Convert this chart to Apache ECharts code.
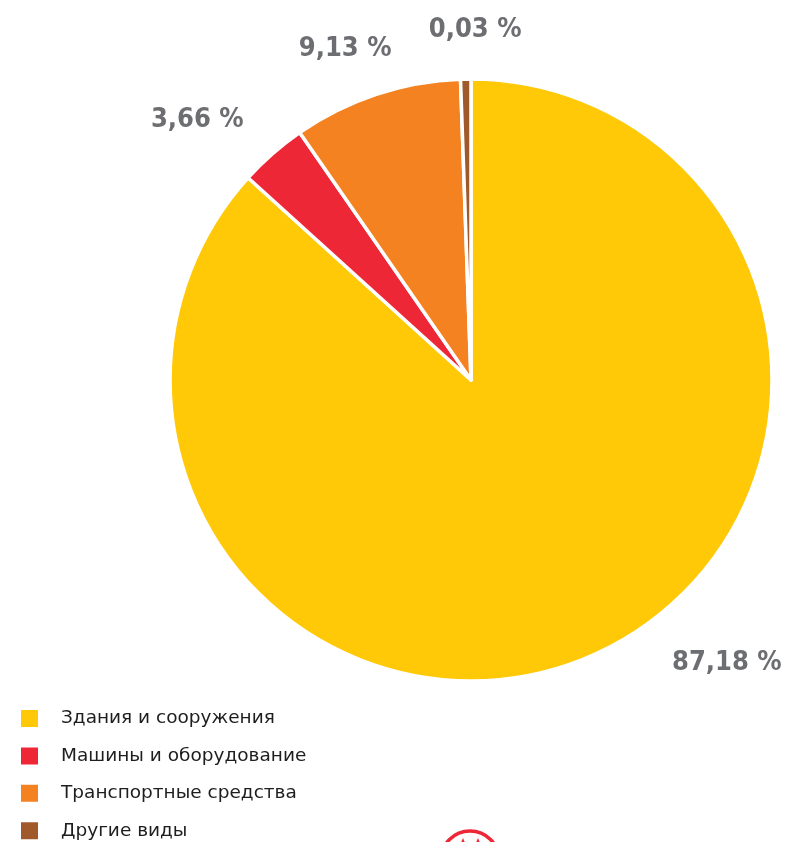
<!DOCTYPE html>
<html>
<head>
<meta charset="utf-8">
<script src="https://cdn.jsdelivr.net/npm/echarts@6/dist/echarts.min.js"></script>
<style>
  html, body { margin: 0; padding: 0; background: #ffffff; }
  #chart { width: 787px; height: 842px; }
</style>
</head>
<body>
<div id="chart"></div>
<script>
// Структура основных фондов по видам, %
const categories = ['Здания и сооружения', 'Машины и оборудование', 'Транспортные средства', 'Другие виды'];
const shares = [87.18, 3.66, 9.13, 0.03];
const labelsText = ['87,18 %', '3,66 %', '9,13 %', '0,03 %'];
const colors = ['#ffc907', '#ee2737', '#f58220', '#a0592a'];

// Label nudges from the default outside placement
const labelShift = [[38, -6], [16, -22], [55, -31], [91, -34]];

const chart = echarts.init(document.getElementById('chart'), null, { renderer: 'canvas' });

const data = categories.map((name, i) => ({
  name: name,
  value: shares[i],
  itemStyle: { color: colors[i] },
  label: { formatter: labelsText[i] }
}));

chart.setOption({
  animation: false,
  backgroundColor: '#ffffff',
  legend: {
    orient: 'vertical',
    left: 19,
    top: 708,
    width: 400,
    height: 300,
    padding: 0,
    icon: 'rect',
    itemWidth: 19,
    itemHeight: 19,
    itemGap: 16.4,
    textStyle: {
      fontFamily: 'DejaVu Sans',
      fontSize: 18.5,
      color: '#1e1e1e',
      padding: [0, 0, 0, 17]
    },
    data: categories
  },
  series: [{
    type: 'pie',
    center: [471, 380],
    radius: [0, 301],
    startAngle: 90,
    clockwise: true,
    minAngle: 2,
    minShowLabelAngle: 0,
    avoidLabelOverlap: false,
    itemStyle: { borderColor: '#ffffff', borderWidth: 3.5 },
    label: {
      show: true,
      position: 'outside',
      fontFamily: '"DejaVu Sans Condensed", "DejaVu Sans"',
      fontWeight: 'bold',
      fontSize: 27,
      color: '#6d6e71'
    },
    labelLine: { show: false },
    labelLayout: function (params) {
      const s = labelShift[params.dataIndex];
      return { dx: s[0], dy: s[1] };
    },
    emphasis: { disabled: true },
    data: data
  }],
  // Emblem peeking in at the bottom edge
  graphic: [{
    type: 'circle',
    shape: { cx: 470, cy: 860, r: 29 },
    style: { fill: 'none', stroke: '#ee2737', lineWidth: 3.5 },
    silent: true
  }, {
    type: 'polygon',
    shape: { points: [[460, 845], [463, 838], [466, 845]] },
    style: { fill: '#ee2737' },
    silent: true
  }, {
    type: 'polygon',
    shape: { points: [[475, 845], [478, 838], [481, 845]] },
    style: { fill: '#ee2737' },
    silent: true
  }]
});
</script>
</body>
</html>
